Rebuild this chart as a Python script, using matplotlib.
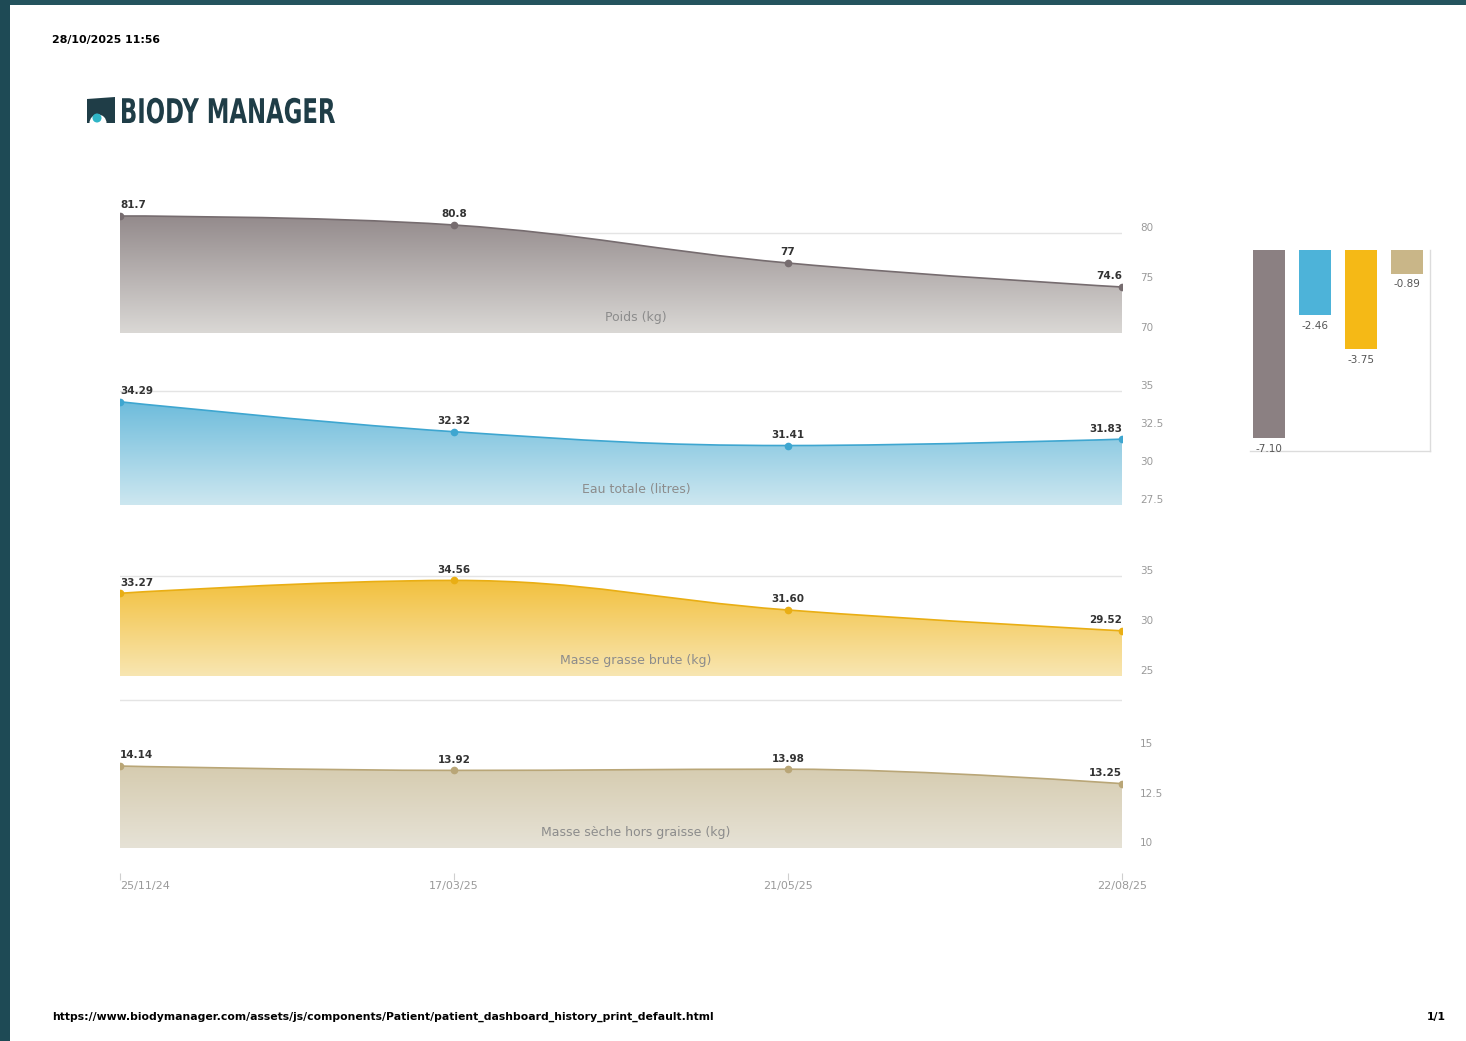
import numpy as np
import matplotlib.pyplot as plt
from matplotlib.path import Path
from matplotlib.patches import PathPatch, Polygon, Circle, Wedge, Rectangle
from matplotlib.colors import LinearSegmentedColormap
from matplotlib.textpath import TextPath
from matplotlib.font_manager import FontProperties
from matplotlib.transforms import Affine2D

W, H = 1466, 1041

# data
DATES = ["25/11/24", "17/03/25", "21/05/25", "22/08/25"]
POIDS = [81.7, 80.8, 77.0, 74.6]
EAU_TOTALE = [34.29, 32.32, 31.41, 31.83]
MASSE_GRASSE = [33.27, 34.56, 31.60, 29.52]
MASSE_SECHE = [14.14, 13.92, 13.98, 13.25]
SERIES_NAMES = ["Poids (kg)", "Eau totale (litres)",
                "Masse grasse brute (kg)", "Masse sèche hors graisse (kg)"]
DELTAS = [-7.10, -2.46, -3.75, -0.89]

PRINT_DATE = "28/10/2025 11:56"
FOOTER_URL = ("https://www.biodymanager.com/assets/js/components/Patient/"
              "patient_dashboard_history_print_default.html")
PAGE_NO = "1/1"
LOGO_TEXT = "BIODY MANAGER"

# panel styles: pixel box (left, top, right, bottom), y range, ticks, grid line
PANELS = [
    dict(values=POIDS, box=(120, 200, 1122, 333), ylim=(70, 83.3),
         yticks=[70, 75, 80], grid=80, fmt="{:g}",
         line="#766c6f", top="#8a8082", bottom="#dad8d5"),
    dict(values=EAU_TOTALE, box=(120, 380, 1122, 505), ylim=(27.5, 35.72),
         yticks=[27.5, 30, 32.5, 35], grid=35, fmt="{:.2f}",
         line="#3ea6d0", top="#5ab3d7", bottom="#cde7f0"),
    dict(values=MASSE_GRASSE, box=(120, 560, 1122, 676), ylim=(25, 36.6),
         yticks=[25, 30, 35], grid=35, fmt="{:.2f}",
         line="#e9ae14", top="#f1b824", bottom="#f8e6b2"),
    dict(values=MASSE_SECHE, box=(120, 690, 1122, 848), ylim=(10, 17.98),
         yticks=[10, 12.5, 15], grid=17.5, fmt="{:.2f}",
         line="#b9a677", top="#c7b78c", bottom="#e6e2d6"),
]
BAR_COLORS = ["#8b8082", "#4db3d9", "#f5b916", "#c9b688"]

TICK_GREY = "#9a9a9a"
GRID_GREY = "#e4e4e4"


def px_axes(fig, box, **kw):
    l, t, r, b = box
    return fig.add_axes([l / W, 1 - b / H, (r - l) / W, (b - t) / H], **kw)


def spline_codes(xs, ys):
    """Bezier path through the points, same smoothing as a highcharts spline"""
    n = len(xs)
    lc = [None] * n
    rc = [None] * n
    sm = 1.5
    den = sm + 1
    for i in range(1, n - 1):
        px, py = xs[i], ys[i]
        lx, ly = xs[i - 1], ys[i - 1]
        nx, ny = xs[i + 1], ys[i + 1]
        lcx, lcy = (sm * px + lx) / den, (sm * py + ly) / den
        rcx, rcy = (sm * px + nx) / den, (sm * py + ny) / den
        corr = (rcy - lcy) * (rcx - px) / (rcx - lcx) + py - rcy
        lcy += corr
        rcy += corr
        if lcy > ly and lcy > py:
            lcy = max(ly, py)
            rcy = 2 * py - lcy
        elif lcy < ly and lcy < py:
            lcy = min(ly, py)
            rcy = 2 * py - lcy
        if rcy > ny and rcy > py:
            rcy = max(ny, py)
            lcy = 2 * py - rcy
        elif rcy < ny and rcy < py:
            rcy = min(ny, py)
            lcy = 2 * py - rcy
        lc[i] = (lcx, lcy)
        rc[i] = (rcx, rcy)
    verts = [(xs[0], ys[0])]
    codes = [Path.MOVETO]
    for i in range(1, n):
        c1 = rc[i - 1] or (xs[i - 1], ys[i - 1])
        c2 = lc[i] or (xs[i], ys[i])
        verts += [c1, c2, (xs[i], ys[i])]
        codes += [Path.CURVE4] * 3
    return verts, codes


def draw_panel(ax, cfg, name, last):
    vals = cfg["values"]
    xs = list(range(len(vals)))
    lo, hi = cfg["ylim"]

    verts, codes = spline_codes(xs, vals)
    fill_verts = [(xs[0], lo)] + verts + [(xs[-1], lo), (xs[0], lo)]
    fill_codes = [Path.MOVETO] + [Path.LINETO] + codes[1:] + [Path.LINETO, Path.CLOSEPOLY]
    clip = PathPatch(Path(fill_verts, fill_codes), facecolor="none",
                     edgecolor="none", transform=ax.transData)
    ax.add_patch(clip)

    cmap = LinearSegmentedColormap.from_list("g", [cfg["bottom"], cfg["top"]])
    grad = np.linspace(0, 1, 256).reshape(-1, 1)
    im = ax.imshow(grad, extent=[xs[0], xs[-1], lo, hi], origin="lower",
                   aspect="auto", cmap=cmap, zorder=2)
    im.set_clip_path(clip)

    ax.axhline(cfg["grid"], color=GRID_GREY, lw=1, zorder=1)
    ax.add_patch(PathPatch(Path(verts, codes), facecolor="none",
                           edgecolor=cfg["line"], lw=1.2, zorder=3))
    ax.plot(xs, vals, "o", color=cfg["line"], ms=4.5, zorder=4)

    for i, v in enumerate(vals):
        ha = "left" if i == 0 else ("right" if i == len(vals) - 1 else "center")
        ax.annotate(cfg["fmt"].format(v), (xs[i], v), xytext=(0, 4),
                    textcoords="offset points", ha=ha, va="bottom",
                    fontsize=7.5, fontweight="bold", color="#333333", zorder=5)

    ax.annotate(name, (0.515, 0), xycoords="axes fraction", xytext=(0, 11),
                textcoords="offset points", ha="center", va="center",
                fontsize=9, color="#8c8c8c", zorder=5)

    ax.set_xlim(xs[0], xs[-1])
    ax.set_ylim(lo, hi)
    for s in ax.spines.values():
        s.set_visible(False)
    ax.set_facecolor("none")

    ax.yaxis.tick_right()
    ax.set_yticks(cfg["yticks"])
    ax.set_yticklabels([f"{t:g}" for t in cfg["yticks"]])
    ax.tick_params(axis="y", length=0, pad=13, labelsize=7.5, labelcolor=TICK_GREY)
    for lab in ax.get_yticklabels():
        lab.set_verticalalignment("bottom")

    if last:
        ax.set_xticks(xs)
        ax.set_xticklabels(DATES)
        ax.spines["bottom"].set_position(("outward", 18))
        ax.tick_params(axis="x", length=5, width=0.8, color="#cfcfcf",
                       labelsize=8, labelcolor=TICK_GREY, pad=1)
        ax.get_xticklabels()[0].set_horizontalalignment("left")
    else:
        ax.set_xticks([])


def draw_logo_text(pg):
    # condensed look: squeeze a bold text path horizontally to the logo width
    tp = TextPath((0, 0), LOGO_TEXT, size=34,
                  prop=FontProperties(family="DejaVu Sans", weight="bold"))
    ext = tp.get_extents()
    sx = 213 / ext.width
    tr = Affine2D().translate(-ext.x0, 0).scale(sx, -1).translate(122, 123) + pg.transData
    pg.add_patch(PathPatch(tp, facecolor="#1f3d47", edgecolor="none", transform=tr))


def draw_page(fig):
    pg = fig.add_axes([0, 0, 1, 1], zorder=-1)
    pg.set_xlim(0, W)
    pg.set_ylim(H, 0)
    pg.axis("off")

    # dark teal frame of the screenshot
    pg.add_patch(Rectangle((0, 0), W, 5, color="#24545e", lw=0))
    pg.add_patch(Rectangle((0, 0), 10, H, color="#1e4a55", lw=0))

    pg.text(52, 40, PRINT_DATE, fontsize=7.9, fontweight="bold",
            color="black", va="center", ha="left")

    # logo
    pg.add_patch(Polygon([(87, 99), (115, 97), (115, 123), (87, 123)],
                         closed=True, color="#1f3d47", lw=0))
    pg.add_patch(Wedge((98, 123), 8.5, 180, 360, color="white", lw=0))
    pg.add_patch(Circle((97, 118), 4.5, color="#2fb5c6", lw=0))
    draw_logo_text(pg)

    pg.text(52, 1017, FOOTER_URL, fontsize=7.8, fontweight="bold",
            color="black", va="center", ha="left")
    pg.text(1427, 1017, PAGE_NO, fontsize=7.8, fontweight="bold",
            color="black", va="center", ha="left")


def draw_deltas(fig):
    ax = px_axes(fig, (1250, 250, 1430, 451))
    xs = np.arange(len(DELTAS))
    ax.bar(xs, DELTAS, width=0.7, color=BAR_COLORS, zorder=2)
    for x, v in zip(xs, DELTAS):
        ax.annotate(f"{v:.2f}", (x, v), xytext=(0, -4), textcoords="offset points",
                    ha="center", va="top", fontsize=7.5, color="#555555", zorder=3)
    ax.set_xlim(-0.41, 3.5)
    ax.set_ylim(-7.58, 0)
    ax.set_xticks([])
    ax.set_yticks([])
    ax.spines["top"].set_visible(False)
    ax.spines["left"].set_visible(False)
    for side in ("bottom", "right"):
        ax.spines[side].set_color("#dcdcdc")
        ax.spines[side].set_linewidth(1)
    ax.set_facecolor("none")


def main() -> int:
    fig = plt.figure(figsize=(W / 100, H / 100), dpi=100)
    fig.patch.set_facecolor("white")
    draw_page(fig)
    for k, (cfg, name) in enumerate(zip(PANELS, SERIES_NAMES)):
        ax = px_axes(fig, cfg["box"])
        draw_panel(ax, cfg, name, last=(k == len(PANELS) - 1))
    draw_deltas(fig)
    fig.savefig("out.png", dpi=100)
    plt.close(fig)
    return 0


if __name__ == "__main__":
    raise SystemExit(main())
